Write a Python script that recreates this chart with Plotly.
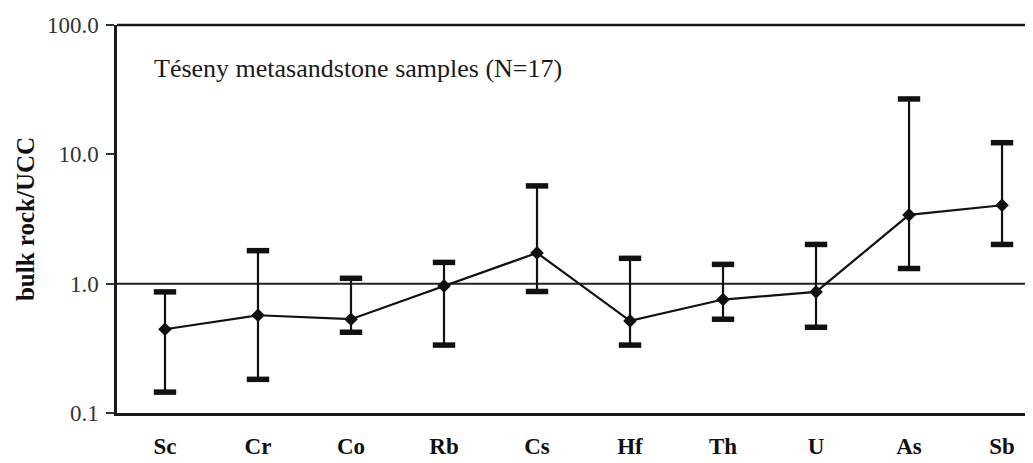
import plotly.graph_objects as go

elements = ["Sc", "Cr", "Co", "Rb", "Cs", "Hf", "Th", "U", "As", "Sb"]
mean_vals = [0.444, 0.570, 0.531, 0.961, 1.73, 0.515, 0.754, 0.864, 3.40, 4.04]
upper_vals = [0.864, 1.80, 1.10, 1.46, 5.70, 1.57, 1.41, 2.01, 26.8, 12.3]
lower_vals = [0.145, 0.182, 0.421, 0.335, 0.870, 0.335, 0.531, 0.460, 1.31, 2.01]
y_tick_vals = [0.1, 1, 10, 100]
y_tick_text = ["0.1", "1.0", "10.0", "100.0"]
label_text = "Téseny metasandstone samples (N=17)"

xs = list(range(len(elements)))
err_plus = [u - m for u, m in zip(upper_vals, mean_vals)]
err_minus = [m - l for m, l in zip(mean_vals, lower_vals)]

SERIF = "Liberation Serif, Times New Roman, serif"

fig = go.Figure()

# error bar stems
fig.add_trace(go.Scatter(
    x=xs, y=mean_vals, mode="markers",
    marker=dict(size=1, color="rgba(0,0,0,0)"),
    error_y=dict(type="data", symmetric=False, array=err_plus, arrayminus=err_minus,
                 color="#111111", thickness=2.2, width=0),
    showlegend=False, hoverinfo="skip"))

# connecting line with diamond markers
fig.add_trace(go.Scatter(
    x=xs, y=mean_vals, mode="lines+markers",
    line=dict(color="#111111", width=2.2),
    marker=dict(symbol="diamond", size=10.5, color="#111111"),
    showlegend=False))

# caps
fig.add_trace(go.Scatter(
    x=xs + xs, y=upper_vals + lower_vals, mode="markers",
    marker=dict(symbol="line-ew", size=16, line=dict(width=5.5, color="#111111")),
    showlegend=False, hoverinfo="skip"))

# the page body has an 8px margin, so the figure is sized/offset to fill the window
fig.update_layout(
    width=1025, height=455,
    margin=dict(l=109, r=0, t=17, b=50),
    paper_bgcolor="white", plot_bgcolor="white",
    font=dict(family=SERIF, color="#222222"),
    xaxis=dict(
        range=[-0.516, 9.333], tickmode="array", tickvals=xs, ticktext=elements,
        showgrid=False, zeroline=False, showline=True, linecolor="#1a1a1a", linewidth=2.5,
        ticks="", tickfont=dict(family=SERIF, size=23, color="#111111", weight="bold"),
        ticklabelstandoff=11, automargin=False),
    yaxis=dict(
        type="log", range=[-1, 2], tickmode="array", tickvals=y_tick_vals, ticktext=y_tick_text,
        showgrid=False, zeroline=False, showline=True, linecolor="#1a1a1a", linewidth=2.5,
        ticks="outside", ticklen=8, tickwidth=1.5, tickcolor="#333333",
        tickfont=dict(family=SERIF, size=23, color="#333333"),
        ticklabelstandoff=3,
        title=dict(text="bulk rock/UCC", font=dict(family=SERIF, size=25, color="#111111", weight="bold"),
                   standoff=6),
        automargin=False),
)

# top border and reference line at 1.0
fig.add_shape(type="line", xref="paper", yref="paper", x0=0, x1=1, y0=1, y1=1,
              line=dict(color="#1a1a1a", width=2.5))
fig.add_shape(type="line", xref="paper", yref="y", x0=0, x1=1, y0=1, y1=1,
              line=dict(color="#222222", width=2), layer="below")

fig.add_annotation(text=label_text, xref="paper", yref="paper",
                   x=(152 - 117) / 916, y=(413 - 68) / 388, xanchor="left", yanchor="middle",
                   showarrow=False, font=dict(family=SERIF, size=26, color="#1a1a1a"))

fig.write_html("out.html")
